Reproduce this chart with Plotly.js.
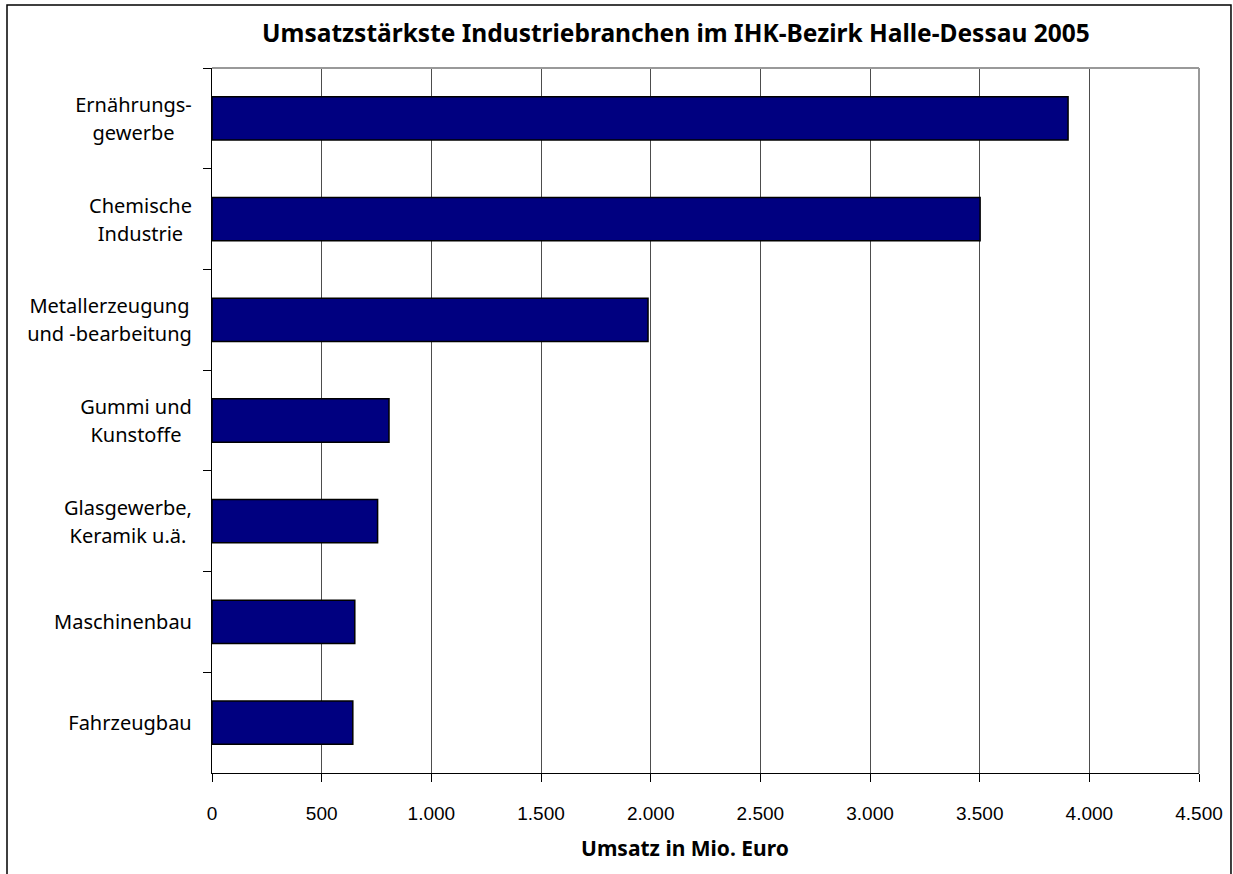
<!DOCTYPE html>
<html>
<head>
<meta charset="utf-8">
<script src="https://cdn.plot.ly/plotly-3.0.1.min.js"></script>
<style>html,body{margin:0;padding:0;background:#fff;}#chart{width:1233px;height:874px;}</style>
</head>
<body>
<div id="chart"></div>
<script>
const categories = ["Ernährungs-<br>gewerbe", "Chemische<br>Industrie", "Metallerzeugung<br>und -bearbeitung", "Gummi und<br>Kunstoffe", "Glasgewerbe,<br>Keramik u.ä.", "Maschinenbau", "Fahrzeugbau"];
const umsatz = [3903, 3502, 1988, 807, 755, 651, 642];
const tickValues = [0, 500, 1000, 1500, 2000, 2500, 3000, 3500, 4000, 4500];
const tickLabels = ["0", "500", "1.000", "1.500", "2.000", "2.500", "3.000", "3.500", "4.000", "4.500"];
const chartTitle = "Umsatzstärkste Industriebranchen im IHK-Bezirk Halle-Dessau 2005";
const xTitle = "Umsatz in Mio. Euro";

const labelFamily = "Noto Sans, Open Sans, sans-serif";
const labelSize = 20;
const labelFont = {family: labelFamily, size: labelSize, color: "#000"};
const lineGap = 28;

const cvs = document.createElement("canvas").getContext("2d");
cvs.font = labelSize + "px 'Noto Sans'";

const trace = {
  type: "bar",
  orientation: "h",
  y: categories,
  x: umsatz,
  marker: {color: "#000080", line: {color: "#000", width: 1.5}},
  hoverinfo: "x+y"
};

const annotations = [];
categories.forEach(c => {
  const lines = c.split("<br>");
  const w = Math.ceil(Math.max(...lines.map(l => cvs.measureText(l).width))) + 2;
  lines.forEach((l, i) => {
    annotations.push({
      xref: "paper", yref: "y", x: 0, y: c, xanchor: "right", yanchor: "middle",
      xshift: -17, yshift: ((lines.length - 1) / 2 - i) * lineGap,
      width: w, align: "center", showarrow: false, text: l, font: labelFont
    });
  });
});
annotations.push({
  xref: "paper", yref: "paper", x: (685 - 212) / 987, y: -(848 - 773) / 704.5,
  xanchor: "center", yanchor: "middle", showarrow: false,
  text: "<b>" + xTitle + "</b>",
  font: {family: labelFamily, size: 21, color: "#000"}
});

const layout = {
  width: 1233, height: 874,
  margin: {l: 212, r: 34, t: 68, b: 101},
  paper_bgcolor: "#fff", plot_bgcolor: "#fff",
  showlegend: false,
  bargap: 0.57,
  title: {
    text: "<b>" + chartTitle + "</b>",
    font: {family: labelFamily, size: 24.5, color: "#000"},
    xref: "paper", x: 0.47, xanchor: "center",
    yref: "container", y: 1 - 33/874, yanchor: "middle"
  },
  xaxis: {
    range: [0, 4500],
    tickvals: tickValues, ticktext: tickLabels,
    ticks: "outside", ticklen: 8, tickcolor: "#000", tickwidth: 1,
    showgrid: true, gridcolor: "#4d4d4d", gridwidth: 1,
    zeroline: false,
    showline: true, linecolor: "#000", linewidth: 1,
    tickfont: {family: "Liberation Sans, Arial, sans-serif", size: 19, color: "#000"},
    ticklabelstandoff: 15,
    fixedrange: true
  },
  yaxis: {
    type: "category",
    autorange: "reversed",
    tickson: "boundaries",
    ticks: "outside", ticklen: 8, tickcolor: "#000", tickwidth: 1,
    showticklabels: false,
    showgrid: false, zeroline: false,
    showline: true, linecolor: "#000", linewidth: 1,
    fixedrange: true
  },
  annotations: annotations,
  shapes: [
    {type: "line", xref: "paper", yref: "paper", x0: 0, x1: 1, y0: 1, y1: 1, line: {color: "#999", width: 2}, layer: "above"},
    {type: "line", xref: "paper", yref: "paper", x0: 1, x1: 1, y0: 0, y1: 1, line: {color: "#999", width: 2}, layer: "above"},
    {type: "rect", xref: "paper", yref: "paper", x0: -0.2077, x1: 1.0324, y0: -0.3, y1: 1.0895, line: {color: "#000", width: 1.5}, fillcolor: "rgba(0,0,0,0)", layer: "below"}
  ]
};

Plotly.newPlot("chart", [trace], layout, {displayModeBar: false, staticPlot: true});
</script>
</body>
</html>
